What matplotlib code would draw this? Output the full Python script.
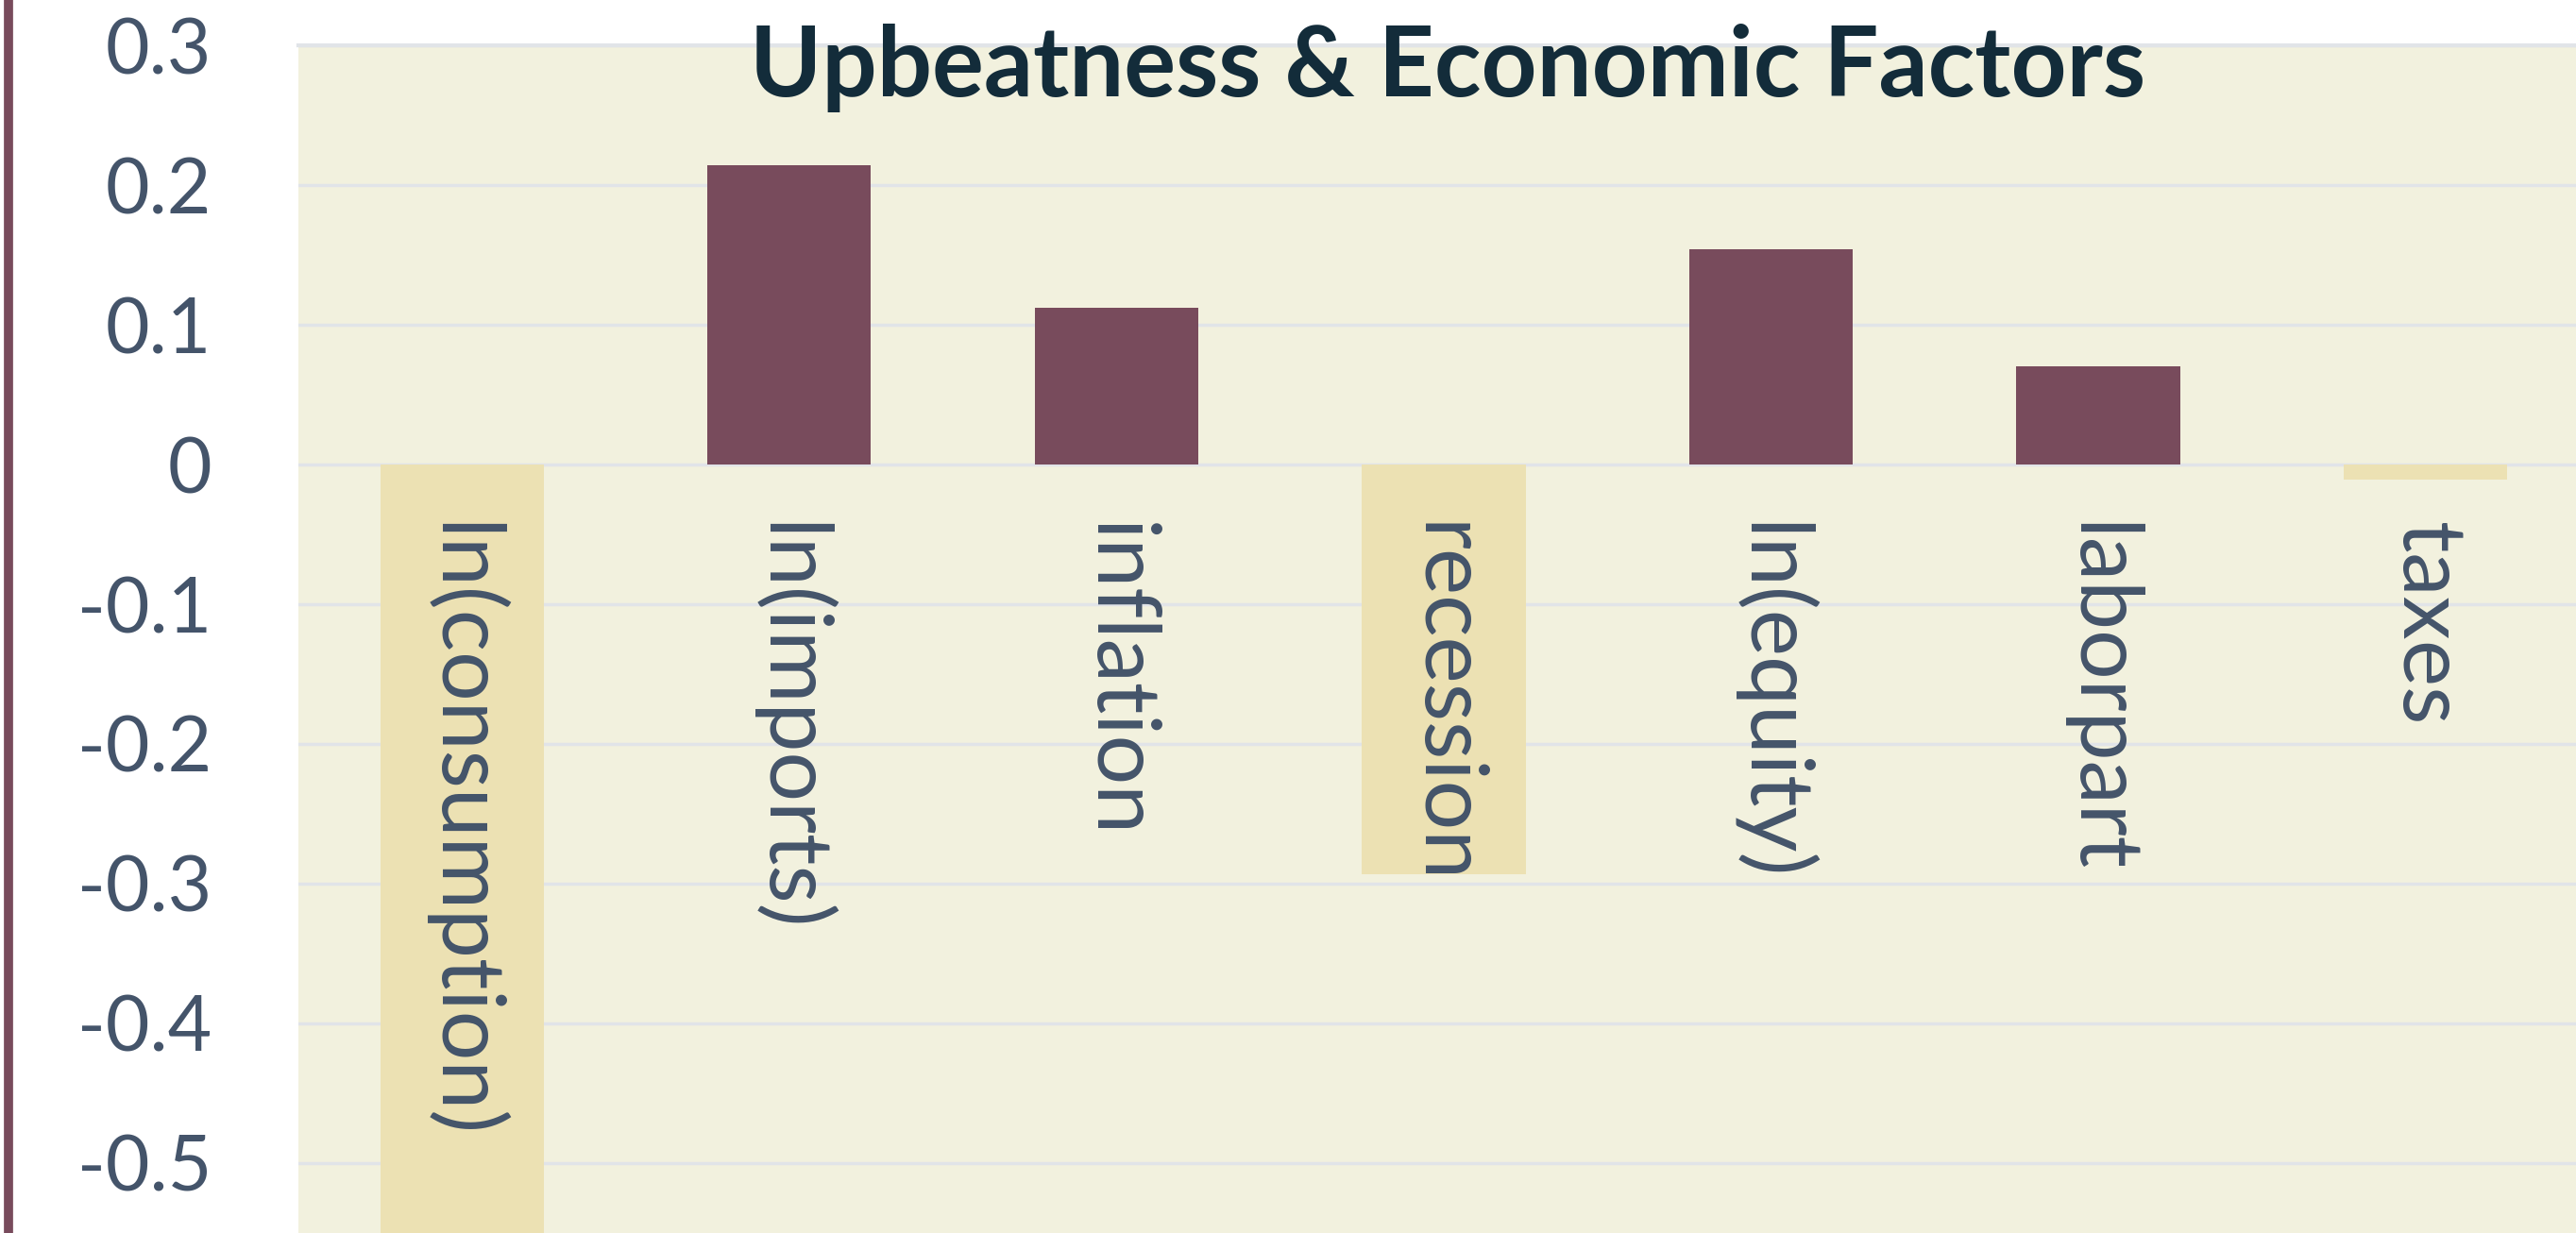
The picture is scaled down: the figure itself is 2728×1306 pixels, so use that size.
import numpy as np
import matplotlib
matplotlib.use('Agg')
import matplotlib.pyplot as plt

# data
factors = ['ln(consumption)', 'ln(imports)', 'inflation', 'recession',
           'ln(equity)', 'laborpart', 'taxes']
coefs = [-0.62, 0.214, 0.112, -0.293, 0.154, 0.070, -0.011]

yticks = [0.3, 0.2, 0.1, 0.0, -0.1, -0.2, -0.3, -0.4, -0.5]
ytick_labels = ['0.3', '0.2', '0.1', '0', '-0.1', '-0.2', '-0.3', '-0.4', '-0.5']

# colours
pos_color = '#784B5C'
neg_color = '#ECE1B3'
bg_color = '#F2F1DE'
grid_color = '#E1E4E8'
text_color = '#44546A'
title_color = '#132C3A'

plt.rcParams['font.family'] = ['Lato', 'DejaVu Sans']

W, H, dpi = 2728, 1306, 100
fig = plt.figure(figsize=(W / dpi, H / dpi), dpi=dpi)

# plot area: left edge at 316 px, top at the 0.3 gridline, runs off right and bottom
ax = fig.add_axes([316 / W, 0, 1 - 316 / W, 1 - 48 / H])
ax.set_facecolor(bg_color)

x = np.arange(len(factors))
colors = [pos_color if v > 0 else neg_color for v in coefs]
ax.bar(x, coefs, width=0.5, color=colors, zorder=3)

ax.set_xlim(-0.5, 6.46)
ax.set_ylim(-0.55, 0.3)

ax.set_yticks(yticks)
ax.set_yticklabels(ytick_labels)
ax.tick_params(axis='y', length=0, pad=66, labelsize=58, labelcolor=text_color)
ax.set_xticks([])
ax.grid(axis='y', color=grid_color, linewidth=2.5, zorder=0)
ax.set_axisbelow(True)
for sp in ax.spines.values():
    sp.set_visible(False)
ax.axhline(0.3, color=grid_color, linewidth=3, zorder=1, clip_on=False)

# category names, written downwards just under the zero line
for xi, name in zip(x, factors):
    ax.text(xi, -0.041, name, rotation=-90, ha='center', va='top',
            fontsize=67, color=text_color, zorder=4)

fig.text((316 + W) / 2 / W + 0.004, 1 - 72 / H, 'Upbeatness & Economic Factors',
         ha='center', va='center', fontsize=74, fontweight='bold',
         color=title_color, zorder=5)

# maroon rule down the left edge
fig.add_artist(plt.Line2D([9 / W, 9 / W], [0, 1], color=pos_color,
                          linewidth=7, transform=fig.transFigure))

fig.savefig('out.png', dpi=dpi, facecolor='white')
